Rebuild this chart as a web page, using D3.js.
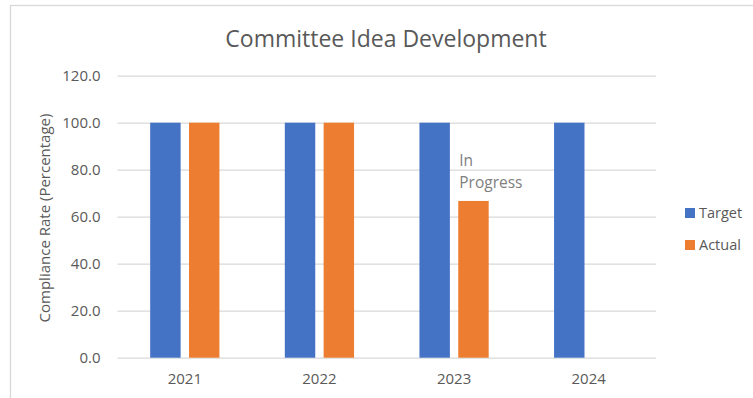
<!DOCTYPE html>
<html>
<head>
<meta charset="utf-8">
<script src="https://cdn.jsdelivr.net/npm/d3@7"></script>
<style>
  body { margin: 0; background: #fff; }
  text { font-family: "Open Sans", sans-serif; }
</style>
</head>
<body>
<div id="chart"></div>
<script>
//chart data
var years = ["2021", "2022", "2023", "2024"];
var target = [100, 100, 100, 100];
var actual = [100, 100, 66.7, null];
var seriesNames = ["Target", "Actual"];
var yTicks = [0, 20, 40, 60, 80, 100, 120];
var noteText = ["In", "Progress"];

//dimensions
var W = 753, H = 398;
var margin = {top: 75.7, left: 117.5, right: 97, bottom: 40.3};
var width = W - margin.left - margin.right,
    height = H - margin.top - margin.bottom;

var colors = ["#4472C4", "#ED7D31"];

var svg = d3.select("#chart")
  .append("svg")
  .attr("width", W)
  .attr("height", H);

//outer chart border (runs off right and bottom edge)
svg.append("rect")
  .attr("x", 10.5)
  .attr("y", 5.5)
  .attr("width", W)
  .attr("height", H)
  .attr("fill", "none")
  .attr("stroke", "#d9d9d9")
  .attr("stroke-width", 1.3);

var g = svg.append("g")
  .attr("transform", "translate(" + margin.left + "," + margin.top + ")");

//scales
var x = d3.scaleBand().domain(years).range([0, width]);
var xInner = d3.scaleBand().domain(seriesNames)
  .range([0, x.bandwidth()])
  .paddingInner(0.216)
  .paddingOuter(0.842);
var y = d3.scaleLinear().domain([0, 120]).range([height, 0]);
var color = d3.scaleOrdinal().domain(seriesNames).range(colors);

//gridlines + y labels
var yAxis = g.append("g")
  .call(d3.axisLeft(y).tickValues(yTicks).tickSize(-width).tickPadding(17)
    .tickFormat(d3.format(".1f")));
yAxis.select(".domain").remove();
yAxis.selectAll(".tick line").attr("stroke", "#d9d9d9").attr("stroke-width", 1.3);
yAxis.selectAll(".tick text")
  .attr("fill", "#595959")
  .style("font-size", "15px")
  .style("font-family", "'Open Sans', sans-serif");

//x labels
var xAxis = g.append("g")
  .attr("transform", "translate(0," + height + ")")
  .call(d3.axisBottom(x).tickSize(0).tickPadding(16));
xAxis.select(".domain").remove();
xAxis.selectAll(".tick text")
  .attr("fill", "#595959")
  .style("font-size", "15px")
  .style("font-family", "'Open Sans', sans-serif");

//bars
var rows = years.map(function(yr, i) {
  return {year: yr, values: [
    {key: "Target", value: target[i]},
    {key: "Actual", value: actual[i]}
  ]};
});

var groups = g.selectAll(".grp")
  .data(rows)
  .enter().append("g")
  .attr("class", "grp")
  .attr("transform", function(d) { return "translate(" + x(d.year) + ",0)"; });

groups.selectAll("rect")
  .data(function(d) { return d.values.filter(function(v) { return v.value != null; }); })
  .enter().append("rect")
  .attr("x", function(d) { return xInner(d.key); })
  .attr("width", xInner.bandwidth())
  .attr("y", function(d) { return y(d.value); })
  .attr("height", function(d) { return height - y(d.value); })
  .attr("fill", function(d) { return color(d.key); });

//"In Progress" note above 2023 actual
var noteX = x("2023") + xInner("Actual");
var note = g.append("text")
  .attr("x", noteX + 1)
  .attr("y", 166 - margin.top)
  .attr("fill", "#808080")
  .style("font-size", "15.5px");
note.selectAll("tspan")
  .data(noteText)
  .enter().append("tspan")
  .attr("x", noteX + 1)
  .attr("dy", function(d, i) { return i === 0 ? 0 : 22.5; })
  .text(function(d) { return d; });

//title
svg.append("text")
  .attr("x", 386)
  .attr("y", 47)
  .attr("text-anchor", "middle")
  .attr("fill", "#595959")
  .style("font-size", "23px")
  .text("Committee Idea Development");

//y axis title
svg.append("text")
  .attr("transform", "translate(50,218) rotate(-90)")
  .attr("text-anchor", "middle")
  .attr("fill", "#595959")
  .style("font-size", "15px")
  .text("Compliance Rate (Percentage)");

//legend
var legend = svg.append("g")
  .attr("transform", "translate(685,208)");
var li = legend.selectAll(".li")
  .data(seriesNames)
  .enter().append("g")
  .attr("transform", function(d, i) { return "translate(0," + (i * 32) + ")"; });
li.append("rect")
  .attr("width", 10)
  .attr("height", 10)
  .attr("fill", function(d) { return color(d); });
li.append("text")
  .attr("x", 14)
  .attr("y", 10)
  .attr("fill", "#595959")
  .style("font-size", "14.5px")
  .text(function(d) { return d; });
</script>
</body>
</html>
